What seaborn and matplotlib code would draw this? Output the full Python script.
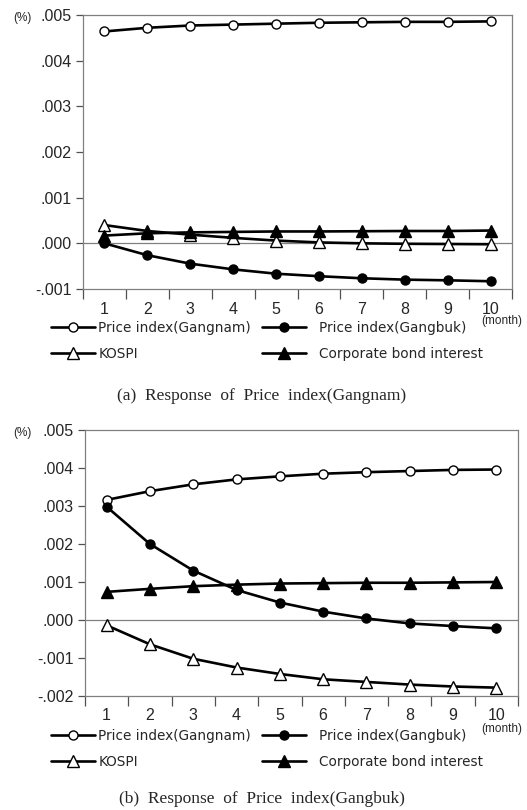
import matplotlib
matplotlib.use("Agg")
import matplotlib.pyplot as plt
import seaborn as sns
import pandas as pd
from matplotlib.ticker import FuncFormatter

sns.set_style("ticks")
plt.rcParams['font.family'] = ['Liberation Sans', 'DejaVu Sans']

months = [1, 2, 3, 4, 5, 6, 7, 8, 9, 10]
series_names = ["Price index(Gangnam)", "Price index(Gangbuk)", "KOSPI", "Corporate bond interest"]

# Panel (a): Response of Price index(Gangnam)
a_gangnam = [0.00464, 0.00472, 0.00477, 0.00479, 0.00481, 0.00483, 0.00484, 0.00485, 0.00485, 0.00486]
a_gangbuk = [0.00000, -0.00026, -0.000445, -0.00057, -0.000665, -0.00072, -0.000765, -0.000795, -0.00081, -0.00083]
a_kospi = [0.00040, 0.00027, 0.00019, 0.00012, 0.00006, 0.00002, 0.00000, -0.00001, -0.000015, -0.00002]
a_bond = [0.00017, 0.00022, 0.00024, 0.00025, 0.00026, 0.00026, 0.000265, 0.00027, 0.00027, 0.00028]

# Panel (b): Response of Price index(Gangbuk)
b_gangnam = [0.00316, 0.00339, 0.00357, 0.00370, 0.00378, 0.00385, 0.00389, 0.00392, 0.00395, 0.00396]
b_gangbuk = [0.00298, 0.00200, 0.00130, 0.00079, 0.00046, 0.00022, 0.00004, -0.00009, -0.00016, -0.00022]
b_kospi = [-0.00014, -0.00064, -0.00102, -0.00125, -0.00142, -0.00156, -0.00163, -0.00170, -0.00175, -0.00178]
b_bond = [0.00074, 0.00082, 0.00089, 0.00093, 0.00096, 0.00097, 0.00098, 0.00098, 0.00099, 0.00100]

yticks_a = [-0.001, 0.000, 0.001, 0.002, 0.003, 0.004, 0.005]
yticks_b = [-0.002, -0.001, 0.000, 0.001, 0.002, 0.003, 0.004, 0.005]
captions = ["(a)  Response  of  Price  index(Gangnam)", "(b)  Response  of  Price  index(Gangbuk)"]

styles = [
    dict(marker='o', markerfacecolor='white', markersize=6.5),
    dict(marker='o', markerfacecolor='black', markersize=6.5),
    dict(marker='^', markerfacecolor='white', markersize=8.5),
    dict(marker='^', markerfacecolor='black', markersize=8.5),
]

fig = plt.figure(figsize=(5.27, 8.10), dpi=100)

def fmt(v, pos):
    s = "%.3f" % v
    if s.startswith("-0."):
        return "-" + s[2:]
    if s.startswith("0."):
        return s[1:]
    return s

def panel(rect, data, yticks, caption, cap_y, pct_y, month_y, leg_y):
    ax = fig.add_axes(rect)
    for name, vals, st in zip(series_names, data, styles):
        df = pd.DataFrame({"month": months, "value": vals})
        sns.lineplot(data=df, x="month", y="value", ax=ax, color='black', linewidth=1.9,
                     markeredgecolor='black', markeredgewidth=1.0, label=name, **st)
    ax.axhline(0, color='#808080', linewidth=0.9, zorder=0)
    ax.set_xlim(0.5, 10.5)
    ax.set_ylim(yticks[0], yticks[-1])
    ax.set_xticks(months)
    ax.set_xticks([m - 0.5 for m in months] + [10.5], minor=True)
    ax.tick_params(axis='x', which='major', length=0, pad=9, labelsize=11.5)
    ax.tick_params(axis='x', which='minor', length=7, width=0.9, color='#505050', direction='out')
    ax.set_yticks(yticks)
    ax.yaxis.set_major_formatter(FuncFormatter(fmt))
    ax.tick_params(axis='y', length=5, width=0.9, color='#505050', labelsize=11.5, pad=3)
    for sp in ax.spines.values():
        sp.set_color('#808080')
        sp.set_linewidth(0.9)
    ax.set_xlabel("")
    ax.set_ylabel("")
    h, l = ax.get_legend_handles_labels()
    ax.get_legend().remove()
    prop = {'family': 'DejaVu Sans', 'size': 9.8}
    fig.legend([h[0], h[2]], [l[0], l[2]], loc='upper left',
               bbox_to_anchor=(39 / 527, leg_y), frameon=False, ncol=1,
               handlelength=3.2, handletextpad=0.25, labelspacing=0.85, prop=prop)
    fig.legend([h[1], h[3]], [l[1], l[3]], loc='upper left',
               bbox_to_anchor=(250 / 527, leg_y), frameon=False, ncol=1,
               handlelength=3.2, handletextpad=1.0, labelspacing=0.85, prop=prop)
    fig.text(481 / 527, month_y, "(month)", fontsize=8.5, ha='left', va='center')
    fig.text(13 / 527, pct_y, "(%)", fontsize=8.5, ha='left', va='center')
    fig.text(262 / 527, cap_y, caption, fontsize=12.5, ha='center', va='center',
             family='Liberation Serif')
    return ax

panel([83 / 527, 1 - 289 / 810, 429 / 527, 274 / 810],
      [a_gangnam, a_gangbuk, a_kospi, a_bond], yticks_a, captions[0],
      1 - 396 / 810, 1 - 18 / 810, 1 - 321 / 810, 1 - 309 / 810)
panel([85 / 527, 1 - 696 / 810, 433 / 527, 266 / 810],
      [b_gangnam, b_gangbuk, b_kospi, b_bond], yticks_b, captions[1],
      1 - 799 / 810, 1 - 433 / 810, 1 - 729 / 810, 1 - 717 / 810)

fig.savefig("out.png", dpi=100)
